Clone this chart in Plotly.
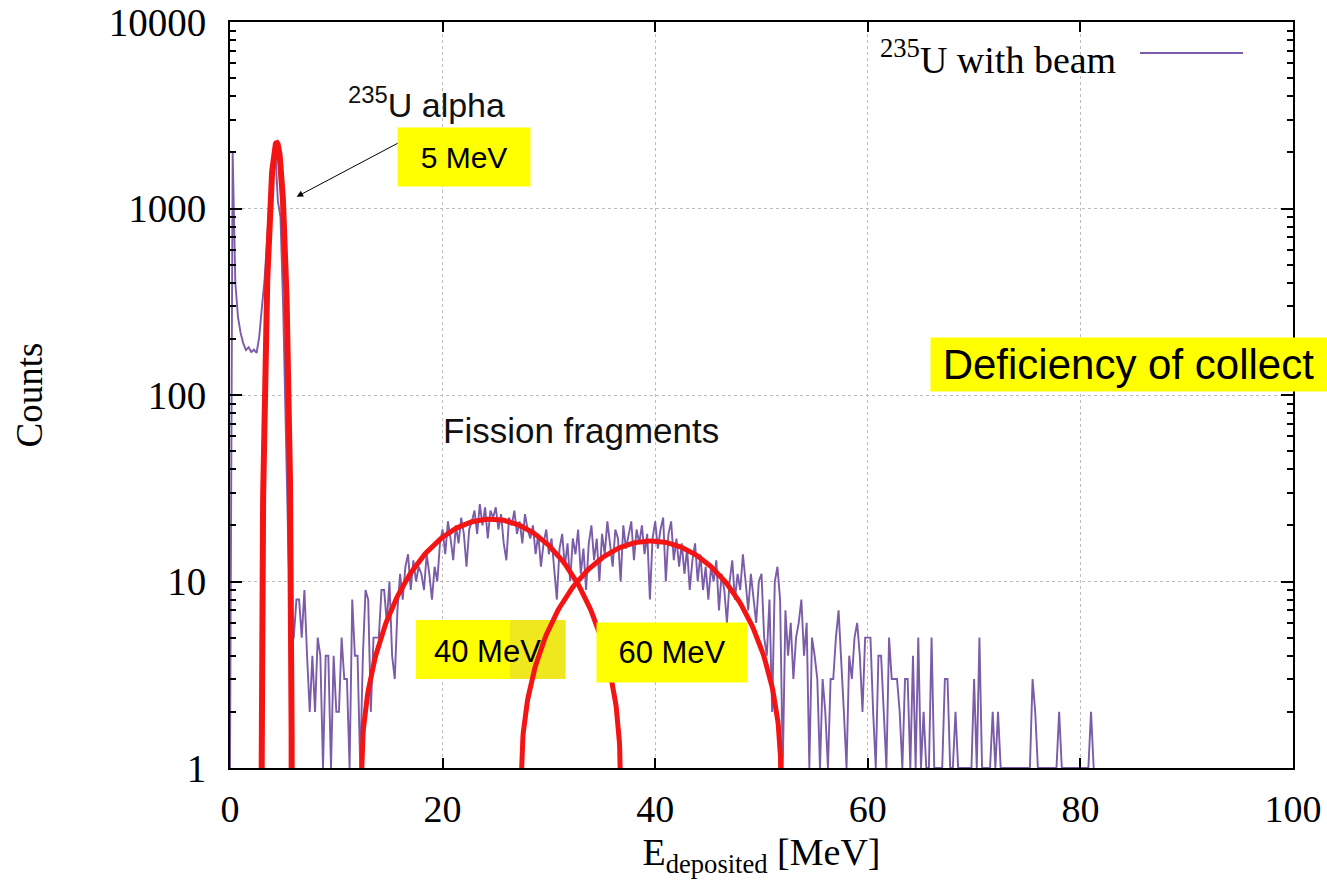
import math
import numpy as np
import plotly.graph_objects as go

# ---- measured spectrum: 235U target with beam, 0.25 MeV bins ----
BIN_WIDTH = 0.25
counts = [
    # 0.00 - 4.75 MeV
    1, 2000, 400, 262, 215, 189, 174, 180, 170, 175, 168, 205, 295, 415, 700, 1200, 1750, 2100, 1100, 900,
    # 5.00 - 9.75 MeV
    300, 70, 14, 5, 5, 8, 8, 5, 9, 4, 2, 4, 2, 5, 4, 1, 4, 4, 1, 4,
    # 10.00 - 14.75 MeV
    2, 2, 5, 3, 3, 1, 8, 4, 4, 1, 4, 9, 8, 2, 5, 5, 5, 9, 9, 6,
    # 15.00 - 19.75 MeV
    10, 4, 3, 7, 11, 8, 12, 14, 9, 13, 10, 12, 11, 9, 14, 11, 8, 12, 10, 16,
    # 20.00 - 24.75 MeV
    19, 14, 21, 17, 13, 20, 16, 22, 18, 12, 19, 21, 24, 18, 26, 20, 25, 17, 24, 22,
    # 25.00 - 29.75 MeV
    25, 19, 23, 16, 13, 22, 20, 24, 18, 21, 16, 23, 19, 17, 20, 14, 18, 12, 16, 19,
    # 30.00 - 34.75 MeV
    14, 17, 11, 8, 15, 18, 12, 16, 10, 17, 14, 19, 11, 15, 9, 16, 20, 13, 17, 10,
    # 35.00 - 39.75 MeV
    18, 14, 21, 16, 12, 19, 17, 10, 20, 15, 18, 21, 13, 19, 16, 20, 14, 18, 8, 17,
    # 40.00 - 44.75 MeV
    21, 15, 19, 22, 10, 18, 21, 13, 17, 12, 16, 11, 15, 9, 13, 16, 10, 14, 9, 12,
    # 45.00 - 49.75 MeV
    8, 12, 10, 13, 7, 11, 9, 6, 10, 13, 8, 11, 9, 14, 10, 7, 11, 8, 6, 10,
    # 50.00 - 54.75 MeV
    11, 5, 4, 8, 2, 10, 12, 8, 1, 7, 4, 6, 3, 5, 6, 8, 4, 6, 1, 5,
    # 55.00 - 59.75 MeV
    4, 3, 1, 3, 2, 1, 3, 3, 5, 7, 4, 2, 1, 4, 3, 5, 6, 4, 2, 5,
    # 60.00 - 64.75 MeV
    5, 5, 2, 1, 4, 4, 2, 1, 5, 3, 3, 3, 2, 1, 3, 3, 1, 4, 1, 5,
    # 65.00 - 69.75 MeV
    1, 2, 1, 1, 5, 1, 1, 1, 1, 3, 3, 1, 1, 2, 1, 1, 1, 1, 1, 1,
    # 70.00 - 74.75 MeV
    3, 1, 5, 1, 1, 1, 1, 2, 1, 2, 1, 1, 1, 1, 1, 1, 1, 1, 1, 1,
    # 75.00 - 79.75 MeV
    1, 1, 3, 2, 1, 1, 1, 1, 1, 1, 1, 1, 2, 1, 1, 1, 1, 1, 1, 1,
    # 80.00 - 81.25 MeV
    1, 1, 1, 1, 2, 1,
]
energy = [i * BIN_WIDTH for i in range(len(counts))]

# ---- hand-drawn peak envelopes (semi-ellipses on the log scale) ----
arc_center = [4.39, 24.55, 39.62]      # MeV
arc_half_width = [1.41, 12.15, 12.18]  # MeV
arc_peak = [2245, 21.6, 16.5]          # counts at the apex
arc_width = [6, 5, 5]

# ---- axes ----
x_ticks = [0, 20, 40, 60, 80, 100]
y_ticks = [1, 10, 100, 1000, 10000]
y_minor = [m * d for d in (1, 10, 100, 1000) for m in range(2, 10)]

PURPLE = "#7b5ca8"
RED = "#f41414"
YELLOW = "#ffff00"
SERIF = "Liberation Serif"
SANS = "Liberation Sans"

fig = go.Figure()

fig.add_trace(go.Scatter(
    x=energy, y=counts, mode="lines",
    line=dict(color=PURPLE, width=1.9),
    name="235U with beam", showlegend=False,
))

for c, w, p, lw in zip(arc_center, arc_half_width, arc_peak, arc_width):
    t = np.linspace(0, math.pi, 181)
    ex = c - w * np.cos(t)
    ey = 10 ** (math.log10(p) * np.sin(t))
    fig.add_trace(go.Scatter(
        x=ex, y=ey, mode="lines",
        line=dict(color=RED, width=lw),
        showlegend=False, hoverinfo="skip",
    ))

# yellow label sitting under the envelopes (40 MeV)
fig.add_shape(type="rect", xref="x", yref="y", layer="between",
              x0=17.50, x1=31.56, y0=3.0, y1=6.22,
              fillcolor=YELLOW, line=dict(width=0))
fig.add_shape(type="rect", xref="x", yref="y", layer="between",
              x0=26.34, x1=31.56, y0=3.0, y1=6.22,
              fillcolor="#efe81e", line=dict(width=0))

# legend key line
fig.add_shape(type="line", xref="x", yref="y", layer="above",
              x0=85.6, x1=95.3, y0=6820, y1=6820,
              line=dict(color=PURPLE, width=2))

annotations = [
    # arrow pointing at the alpha peak
    dict(x=6.27, y=3.063, ax=17.87, ay=3.413, axref="x", ayref="y",
         xref="x", yref="y", text="", showarrow=True,
         arrowhead=2, arrowsize=1.3, arrowwidth=1, arrowcolor="black"),
    dict(x=18.5, y=3.566, xref="x", yref="y", showarrow=False,
         text="<sup>235</sup>U alpha",
         font=dict(family=SANS, size=34, color="#111")),
    dict(x=33.0, y=1.812, xref="x", yref="y", showarrow=False,
         text="Fission fragments",
         font=dict(family=SANS, size=35, color="#111")),
    dict(x=22.0, y=3.276, xref="x", yref="y", showarrow=False,
         text="5 MeV", width=132, height=58, bgcolor=YELLOW, borderpad=0,
         font=dict(family=SANS, size=30, color="black")),
    dict(x=24.22, y=0.627, xref="x", yref="y", showarrow=False,
         text="40 MeV",
         font=dict(family=SANS, size=31, color="black")),
    dict(x=41.55, y=0.619, xref="x", yref="y", showarrow=False,
         text="60 MeV", width=150, height=59, bgcolor=YELLOW, borderpad=0,
         font=dict(family=SANS, size=31, color="black")),
    dict(x=65.85, y=2.165, xref="x", yref="y", xanchor="left", showarrow=False,
         text="&nbsp;Deficiency of collect", align="left",
         width=397, height=53, bgcolor=YELLOW, borderpad=0,
         font=dict(family=SANS, size=42, color="black")),
    # legend entry text
    dict(x=83.5, y=3.812, xref="x", yref="y", xanchor="right", showarrow=False,
         text="<sup>235</sup>U with beam",
         font=dict(family=SERIF, size=38, color="black")),
]

axis_common = dict(
    showline=True, linecolor="black", linewidth=2, mirror="ticks",
    ticks="inside", tickcolor="black", tickwidth=1.5,
    showgrid=True, gridcolor="#bcbcbc", griddash="dot", gridwidth=1,
    zeroline=False, automargin=False,
)

fig.update_layout(
    width=1327, height=890,
    margin=dict(l=230, r=34, t=22, b=122),
    paper_bgcolor="white", plot_bgcolor="white",
    showlegend=False,
    annotations=annotations,
    xaxis=dict(
        range=[0, 100], tickmode="array", tickvals=x_ticks,
        ticktext=[str(v) for v in x_ticks], ticklen=10,
        tickfont=dict(family=SERIF, size=38, color="black"),
        ticklabelstandoff=6,
        title=dict(text="E<sub>deposited</sub> [MeV]", standoff=10,
                   font=dict(family=SERIF, size=38, color="black")),
        **axis_common,
    ),
    yaxis=dict(
        type="log", range=[0, 4], tickmode="array", tickvals=y_ticks,
        ticktext=[str(v) for v in y_ticks], ticklen=12,
        minor=dict(tickvals=y_minor, ticks="inside", ticklen=6,
                   tickcolor="black", showgrid=False),
        tickfont=dict(family=SERIF, size=39, color="black"),
        ticklabelstandoff=14,
        title=dict(text="Counts", standoff=55,
                   font=dict(family=SERIF, size=37, color="black")),
        **axis_common,
    ),
)

fig.write_html("out.html")
